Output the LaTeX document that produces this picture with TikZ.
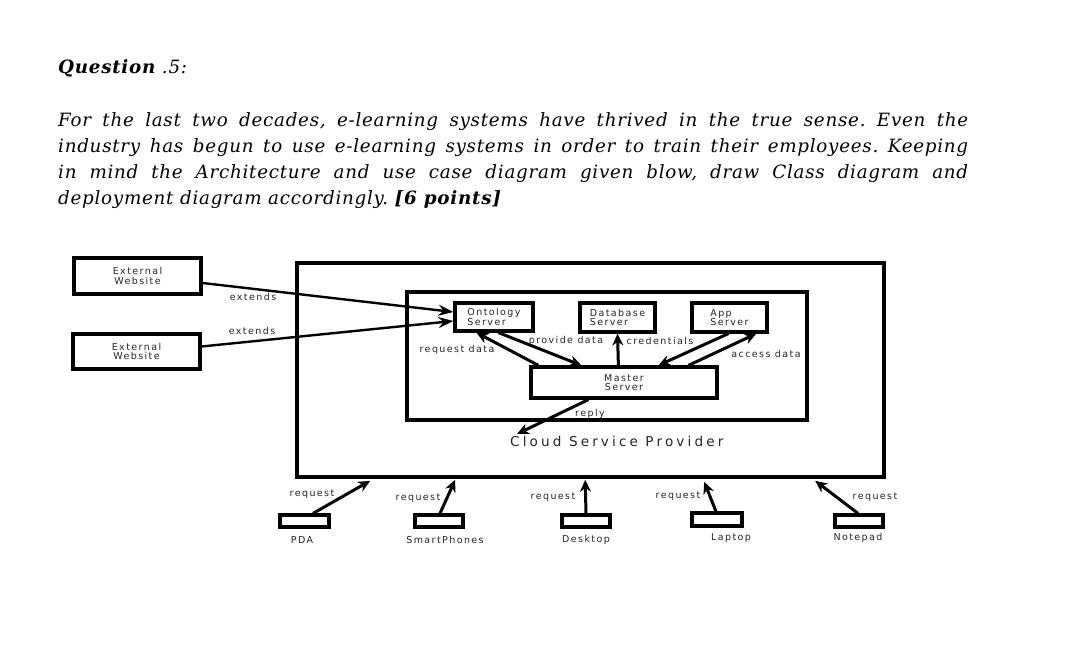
\documentclass[tikz,border=0pt]{standalone}
\usepackage{fontspec}
\setmainfont{DejaVu Serif}[LetterSpace=4]
\newfontfamily\dg[LetterSpace=15]{DejaVu Sans}
\newfontfamily\dgc[LetterSpace=23]{DejaVu Sans}
\usetikzlibrary{arrows.meta}
\frenchspacing
\begin{document}
\begin{tikzpicture}[x=1pt,y=-1pt,
  box/.style={draw=black,line width=3.2pt,inner sep=0pt,align=center,
    font=\dg\fontsize{9.5}{9.5}\selectfont,text=black!85},
  lbl/.style={inner sep=0pt,font=\dg\fontsize{9.5}{9.5}\selectfont,text=black!85},
  frame/.style={draw=black,line width=3.6pt,inner sep=0pt},
  arr/.style={line width=3pt,-{Stealth[length=12pt,width=11pt,inset=4pt]}},
  thin arr/.style={line width=2.4pt,-{Stealth[length=15pt,width=11pt,inset=5pt]}},
  txt/.style={inner sep=0pt,anchor=base west,font=\itshape\fontsize{18.3}{22}\selectfont}
]
\useasboundingbox[fill=white] (0,0) rectangle (1080,663);

% ---------- text ----------
\node[txt] (q) at (58,74) {\textbf{Question} .5:};
\node[txt] (l1) at (58,127) {\makebox[910pt][s]{For the last two decades, e-learning systems have thrived in the true sense. Even the}};
\node[txt] (l2) at (58,153) {\makebox[910pt][s]{industry has begun to use e-learning systems in order to train their employees. Keeping}};
\node[txt] (l3) at (58,179) {\makebox[910pt][s]{in mind the Architecture and use case diagram given blow, draw Class diagram and}};
\node[txt] (l4) at (58,205) {deployment diagram accordingly. \textbf{[6 points]}};

% ---------- frames ----------
\node[frame,minimum width=587pt,minimum height=214pt] (outer) at (590.5,370) {};
\node[frame,line width=3.2pt,minimum width=400pt,minimum height=128pt] (inner) at (607,356) {};

% ---------- boxes ----------
\node[box,minimum width=127pt,minimum height=36pt] (ext1) at (137.5,276) {External\\Website};
\node[box,minimum width=127pt,minimum height=35pt] (ext2) at (136.5,351.5) {External\\Website};
\node[box,align=left,minimum width=78pt,minimum height=28pt] (onto) at (494,317) {Ontology\\Server};
\node[box,align=left,minimum width=75pt,minimum height=29pt] (db) at (617.5,317.5) {Database\\Server};
\node[box,align=left,minimum width=75pt,minimum height=29pt] (app) at (729.5,317.5) {App\\Server};
\node[box,minimum width=186pt,minimum height=31pt] (master) at (624,382.5) {Master\\Server};

\node[box,minimum width=49pt,minimum height=12pt] (pda) at (304.5,521) {};
\node[box,minimum width=48pt,minimum height=12pt] (smart) at (439,521) {};
\node[box,minimum width=48pt,minimum height=12pt] (desk) at (586,521) {};
\node[box,minimum width=50pt,minimum height=13pt] (lap) at (717,519.5) {};
\node[box,minimum width=48pt,minimum height=12pt] (note) at (859,521) {};

% ---------- labels ----------
\node[lbl] (le1) at (253,297) {extends};
\node[lbl] (le2) at (252,331) {extends};
\node[lbl] (lreq) at (457,350) {request data};
\node[lbl] (lprov) at (566,341) {provide data};
\node[lbl] (lcred) at (660,341) {credentials};
\node[lbl] (lacc) at (766,354) {access data};
\node[lbl] (lrep) at (590,414) {reply};
\node[inner sep=0pt,anchor=base west,font=\dgc\fontsize{13.6}{15}\selectfont,text=black!85] (cloud) at (510,446) {Cloud Service Provider};

\node[lbl] (r1) at (312,494) {request};
\node[lbl] (r2) at (418,498) {request};
\node[lbl] (r3) at (553,497) {request};
\node[lbl] (r4) at (678,496) {request};
\node[lbl] (r5) at (875,497) {request};

\node[lbl] (n1) at (302,540) {PDA};
\node[lbl] (n2) at (445,540) {SmartPhones};
\node[lbl] (n3) at (586,540) {Desktop};
\node[lbl] (n4) at (731,538) {Laptop};
\node[lbl] (n5) at (858,538) {Notepad};

% ---------- connectors ----------
\draw[thin arr] ([yshift=-7pt]ext1.east) -- ([yshift=5pt]onto.west);
\draw[thin arr] ([yshift=5pt]ext2.east) -- ([yshift=-4pt]onto.west);

\draw[arr] ([xshift=9pt]master.north west) -- ([xshift=23pt]onto.south west);
\draw[arr] ([xshift=45pt]onto.south west) -- ([xshift=52pt]master.north west);
\draw[arr] ([xshift=89pt]master.north west) -- (db.south);
\draw[arr] ([xshift=38pt]app.south west) -- ([xshift=129pt]master.north west);
\draw[arr] ([xshift=159pt]master.north west) -- ([xshift=66pt]app.south west);

\coordinate (replyend) at (517,434);
\draw[arr] ([xshift=59pt]master.south west) -- (replyend);

\draw[arr] ([xshift=8.5pt]pda.north) -- ([xshift=75pt,yshift=-2pt]outer.south west);
\draw[arr] ([xshift=1pt]smart.north) -- ([xshift=160pt,yshift=-1pt]outer.south west);
\draw[arr] (desk.north) -- ([xshift=290pt,yshift=-1pt]outer.south west);
\draw[arr] ([xshift=-1pt]lap.north) -- ([xshift=409pt,yshift=-3pt]outer.south west);
\draw[arr] ([xshift=-1pt]note.north) -- ([xshift=520pt,yshift=-2pt]outer.south west);
\end{tikzpicture}
\end{document}
